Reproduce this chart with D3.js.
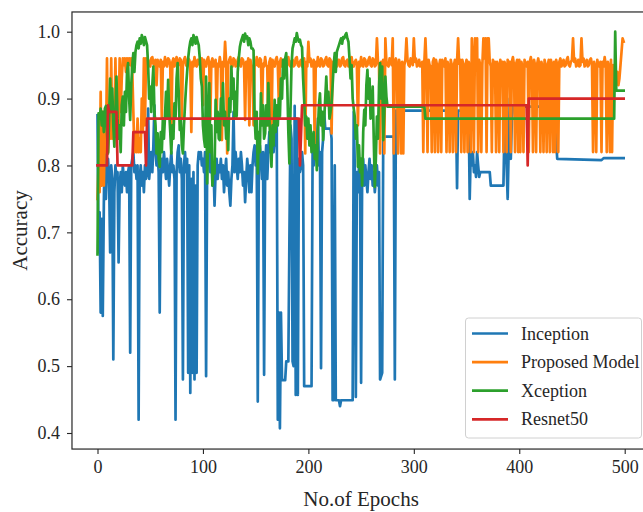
<!DOCTYPE html>
<html><head><meta charset="utf-8">
<script src="https://cdn.jsdelivr.net/npm/d3@7/dist/d3.min.js"></script>
<style>body{margin:0;background:#fff}svg{display:block}</style>
</head><body><svg id="c" width="643" height="512"></svg>
<script>
const xTicks=[0,100,200,300,400,500];
const yTicks=[0.4,0.5,0.6,0.7,0.8,0.9,1.0];
const seriesNames=["Inception","Proposed Model","Xception","Resnet50"];
const seriesColors=["#1f77b4","#ff7f0e","#2ca02c","#d62728"];

const inception=[[0,0.875],[1,0.67],[2,0.73],[3,0.58],[4,0.72],[5,0.575],[6,0.74],[7,0.86],[8,0.75],[9,0.80],[10,0.81],[11,0.78],[12,0.67],[13,0.80],[14,0.78],[15,0.51],[16,0.76],[17,0.80],[18,0.78],[19,0.79],[20,0.655],[21,0.77],[22,0.79],[23,0.76],[24,0.80],[25,0.78],[26,0.77],[27,0.79],[28,0.76],[29,0.79],[30,0.80],[31,0.52],[32,0.80],[33,0.81],[34,0.82],[35,0.79],[36,0.80],[37,0.78],[38,0.80],[39,0.42],[40,0.78],[41,0.80],[42,0.77],[43,0.79],[44,0.76],[45,0.80],[46,0.78],[47,0.79],[48,0.885],[49,0.78],[50,0.80],
[51,0.82],[52,0.79],[53,0.83],[54,0.89],[55,0.82],[56,0.80],[57,0.82],[58,0.79],[59,0.58],[60,0.78],[61,0.81],[62,0.79],[63,0.82],[64,0.80],[65,0.78],[66,0.81],[67,0.79],[68,0.77],[69,0.80],[70,0.82],[71,0.79],[72,0.80],[73,0.78],[74,0.42],[75,0.79],[76,0.82],[77,0.83],[78,0.79],[79,0.81],[80,0.78],[81,0.48],[82,0.80],[83,0.82],[84,0.79],[85,0.81],[86,0.49],[87,0.80],[88,0.46],[89,0.78],[90,0.49],[91,0.79],[92,0.48],[93,0.77],[94,0.49],[95,0.80],[96,0.82],[97,0.81],[98,0.82],[99,0.80],[100,0.81],[101,0.79],[102,0.82],[103,0.485],[104,0.80],[105,0.83],[106,0.81],[107,0.79],[108,0.82],[109,0.77],[110,0.80],
[111,0.74],[112,0.79],[113,0.81],[114,0.78],[115,0.80],[116,0.79],[117,0.81],[118,0.78],[119,0.80],[120,0.76],[121,0.79],[122,0.81],[123,0.77],[124,0.79],[125,0.76],[126,0.74],[127,0.78],[128,0.80],[129,0.88],[130,0.79],[131,0.82],[132,0.80],[133,0.78],[134,0.81],[135,0.79],[136,0.82],[137,0.80],[138,0.77],[139,0.79],[140,0.745],[141,0.78],[142,0.81],[143,0.79],[144,0.76],[145,0.80],[146,0.76],[147,0.80],[148,0.82],[149,0.83],[150,0.80],[151,0.82],[152,0.447],[153,0.80],[154,0.83],[155,0.81],[156,0.78],[157,0.82],[158,0.487],[159,0.80],[160,0.83],[161,0.78],[162,0.82],[163,0.85],[164,0.82],[165,0.84],[166,0.85],[167,0.82],[168,0.84],[169,0.83],
[170,0.86],[171,0.42],[172,0.58],[173,0.407],[174,0.58],[175,0.479],[178,0.479],[179,0.507],[181,0.507],[182,0.69],[183,0.86],[184,0.84],[185,0.507],[186,0.50],[187,0.889],[188,0.457],[189,0.87],[190,0.457],[191,0.81],[192,0.79],[193,0.80],[194,0.82],[195,0.80],[196,0.47],[203,0.47],[204,0.82],[205,0.80],[206,0.83],[207,0.81],[208,0.83],[209,0.87],[210,0.80],[211,0.82],[212,0.497],[213,0.82],[214,0.84],[215,0.88],[216,0.855],[221,0.855],[222,0.84],[223,0.449],[224,0.449],[225,0.80],[226,0.449],[229,0.449],[230,0.44],[231,0.449],[242,0.449],[243,0.88],[244,0.80],[245,0.454],[246,0.79],[247,0.76],[248,0.80],[249,0.78],[250,0.475],[251,0.79],[252,0.81],[253,0.77],[254,0.80],[255,0.78],[256,0.76],[257,0.79],[258,0.81],[259,0.78],[260,0.80],[261,0.77],[262,0.79],[263,0.76],[264,0.78],[265,0.80],[266,0.77],[267,0.79],[268,0.48],[270,0.49],[271,0.843],[281,0.843],[282,0.48],[283,0.882],
[340,0.882],[341,0.766],[342,0.882],[352,0.882],[353,0.75],[354,0.82],[355,0.80],[356,0.82],[357,0.79],[358,0.80],[359,0.783],[360,0.82],[361,0.80],[362,0.783],[363,0.79],[372,0.79],[373,0.77],[385,0.77],[386,0.86],[387,0.85],[389,0.75],[391,0.90],[392,0.81],[393,0.87],[394,0.888],[433,0.888],[436,0.81],[478,0.808],[480,0.811],[499,0.811]];

const proposed=[[0,0.75],[1,0.80],[2,0.76],[3,0.91],[4,0.77],[5,0.88],[6,0.77],[7,0.85],[8,0.82],[9,0.96],[10,0.82],[11,0.86],[12,0.84],[13,0.96],[14,0.84],[15,0.88],[16,0.85],[17,0.96],[18,0.86],[19,0.90],[20,0.86],[21,0.96],[22,0.88],[23,0.93],[24,0.96],[25,0.95],[26,0.96],[27,0.94],[28,0.96],[29,0.95],[30,0.96],[31,0.95],[32,0.96],[33,0.94],[34,0.88],[35,0.82],[36,0.85],[37,0.82],[38,0.87],[39,0.82],[40,0.84],[41,0.82],[42,0.90],[43,0.85],[44,0.96],[45,0.86],[46,0.96],[47,0.95],
[48,0.958],[49,0.95],[50,0.948],[51,0.96],[52,0.962],[53,0.952],[54,0.95],[55,0.958],[56,0.92],[57,0.958],[58,0.95],[59,0.948],[60,0.958],[61,0.87],[62,0.955],[63,0.948],[64,0.962],[65,0.952],[66,0.948],[67,0.96],[68,0.958],[69,0.95],[70,0.84],[71,0.955],[72,0.96],[73,0.948],[74,0.956],[75,0.962],[76,0.95],[77,0.95],[78,0.96],[79,0.958],[80,0.87],[81,0.952],[82,0.958],[83,0.962],[84,0.95],[85,0.948],[86,0.96],[87,0.958],[88,0.95],[89,0.85],[90,0.955],[91,0.948],[92,0.962],[93,0.95],[94,0.948],[95,0.958],[96,0.958],[97,0.95],[98,0.95],[99,0.96],[100,0.89],[101,0.958],[102,0.95],[103,0.948],[104,0.958],[105,0.962],[106,0.95],[107,0.868],[108,0.955],[109,0.96],[110,0.948],[111,0.952],[112,0.958],[113,0.87],[114,0.952],[115,0.948],[116,0.962],[117,0.95],[118,0.838],[119,0.955],[120,0.948],[121,0.985],[122,0.955],[123,0.818],[124,0.952],
[125,0.958],[126,0.962],[127,0.95],[128,0.948],[129,0.96],[130,0.958],[131,0.948],[132,0.95],[133,0.958],[134,0.962],[135,0.95],[136,0.948],[137,0.96],[138,0.958],[139,0.95],[140,0.868],[141,0.955],[142,0.948],[143,0.96],[144,0.86],[145,0.958],[146,0.95],[147,0.948],[148,0.86],[149,0.955],[150,0.95],[151,0.962],[152,0.95],[153,0.948],[154,0.96],[155,0.958],[156,0.873],[157,0.952],[158,0.948],[159,0.962],[160,0.95],[161,0.948],[162,0.86],[163,0.955],[164,0.96],[165,0.85],[166,0.958],[167,0.95],[168,0.948],[169,0.958],[170,0.962],[171,0.95],[172,0.893],[173,0.955],[174,0.96],[175,0.948],[176,0.952],[177,0.958],[178,0.948],[179,0.95],[180,0.96],[181,0.962],[182,0.95],[183,0.948],[184,0.956],[185,0.958],[186,0.948],[187,0.95],[188,0.96],[189,0.962],[190,0.95],[191,0.948],[192,0.955],[193,0.958],[194,0.948],[195,0.95],[196,0.96],[197,0.818],[198,0.955],[199,0.948],[200,0.985],[201,0.955],
[202,0.96],[203,0.948],[204,0.952],[205,0.958],[206,0.83],[207,0.955],[208,0.948],[209,0.962],[210,0.95],[211,0.948],[212,0.96],[213,0.958],[214,0.948],[215,0.95],[216,0.958],[217,0.962],[218,0.95],[219,0.948],[220,0.96],[221,0.958],[222,0.848],[223,0.955],[224,0.948],[225,0.962],[226,0.95],[227,0.948],[228,0.958],[229,0.958],[230,0.948],[231,0.95],[232,0.96],[233,0.962],[234,0.95],[235,0.948],[236,0.956],[237,0.958],[238,0.948],[239,0.95],[240,0.96],[241,0.962],[242,0.95],[243,0.948],[244,0.955],[245,0.958],[246,0.95],[247,0.86],[248,0.955],[249,0.948],[250,0.962],[251,0.95],[252,0.948],[253,0.96],[254,0.958],[255,0.948],[256,0.95],[257,0.958],[258,0.962],[259,0.95],[260,0.948],[261,0.96],[262,0.958],[263,0.948],[264,0.95],[265,0.99],[266,0.955],[267,0.95],[268,0.818],[269,0.955],[270,0.948],[271,0.958],[272,0.818],[273,0.99],[274,0.955],[275,0.95],[276,0.948],[277,0.96],[278,0.958],[279,0.95],[280,0.99],[281,0.818],[282,0.955],[283,0.96],[284,0.948],[285,0.818],[286,0.958],[287,0.95],[288,0.818],[289,0.955],[290,0.818],[291,0.95],[292,0.958],[293,0.99],[294,0.958],[295,0.95],[296,0.948],[297,0.96],[298,0.958],[299,0.95],[300,0.99],[301,0.955],[302,0.96],[303,0.948],[304,0.95],[305,0.958],[306,0.948],[307,0.95],
[308,0.955],[309,0.82],[310,0.955],[311,0.99],[312,0.95],[313,0.82],[314,0.958],[315,0.95],[316,0.948],[317,0.82],[318,0.955],[319,0.96],[320,0.82],[321,0.958],[322,0.95],[323,0.82],[324,0.95],[325,0.958],[326,0.82],[327,0.958],[328,0.95],[329,0.948],[330,0.96],[331,0.82],[332,0.955],[333,0.948],[334,0.82],[335,0.958],[336,0.95],[337,0.82],[338,0.95],[339,0.958],[340,0.82],[341,0.955],[342,0.99],[343,0.952],[344,0.958],[345,0.82],[346,0.958],[347,0.95],[348,0.82],[349,0.95],[350,0.958],[351,0.82],[352,0.955],[353,0.948],[354,0.82],[355,0.99],[356,0.955],[357,0.82],[358,0.99],[359,0.96],[360,0.99],[361,0.82],[362,0.958],[363,0.95],[364,0.82],[365,0.95],[366,0.99],[367,0.96],[368,0.99],[369,0.82],[370,0.99],[371,0.99],[372,0.955],[373,0.948],[374,0.82],[375,0.958],[376,0.948],[377,0.955],[378,0.82],[379,0.955],[380,0.95],[381,0.82],[382,0.958],[383,0.948],[384,0.955],[385,0.82],[386,0.955],[387,0.95],[388,0.82],[389,0.958],[390,0.948],[391,0.955],[392,0.82],[393,0.955],[394,0.962],[395,0.95],[396,0.82],[397,0.952],[398,0.958],[399,0.82],[400,0.958],[401,0.82],[402,0.955],[403,0.948],[404,0.82],[405,0.958],[406,0.95],[407,0.948],[408,0.955],[409,0.82],[410,0.955],[411,0.962],[412,0.95],[413,0.82],[414,0.958],[415,0.95],[416,0.82],[417,0.952],[418,0.96],[419,0.95],[420,0.82],[421,0.955],[422,0.948],[423,0.82],[424,0.958],[425,0.95],[426,0.82],[427,0.95],[428,0.958],[429,0.82],[430,0.958],[431,0.95],[432,0.82],[433,0.955],[434,0.82],[435,0.958],[436,0.95],[437,0.82],[438,0.955],
[439,0.96],[440,0.948],[441,0.952],[442,0.958],[443,0.948],[444,0.95],[445,0.958],[446,0.962],[447,0.95],[448,0.948],[449,0.955],[450,0.958],[451,0.99],[452,0.955],[453,0.96],[454,0.948],[455,0.95],[456,0.958],[457,0.948],[458,0.95],[459,0.99],[460,0.955],[461,0.96],[462,0.948],[463,0.952],[464,0.958],[465,0.948],[466,0.95],[467,0.958],[468,0.96],[469,0.95],[470,0.82],[471,0.955],[472,0.948],[473,0.82],[474,0.958],[475,0.95],[476,0.948],[477,0.955],[478,0.82],[479,0.955],[480,0.948],[481,0.962],[482,0.95],[483,0.82],[484,0.955],[485,0.948],[486,0.82],[487,0.958],[488,0.82],[489,0.95],[490,0.94],[491,0.95],[492,0.93],[493,0.94],[494,0.92],[495,0.93],[496,0.95],[497,0.97],[498,0.99],[499,0.985]];

const xception=[[0,0.667],[1,0.878],[2,0.87],[3,0.885],[4,0.86],[5,0.88],[6,0.85],[7,0.885],[8,0.889],[9,0.85],[10,0.818],[11,0.87],[12,0.93],[13,0.88],[14,0.915],[15,0.86],[16,0.828],[17,0.88],[18,0.933],[19,0.87],[20,0.84],[21,0.86],[22,0.82],[23,0.89],[24,0.903],[25,0.86],[26,0.91],[27,0.88],[28,0.94],[29,0.953],[30,0.90],[31,0.868],[32,0.92],[33,0.95],[34,0.968],[35,0.94],[36,0.97],[37,0.98],[38,0.985],[39,0.975],[40,0.99],[41,0.982],[42,0.995],[43,0.99],[44,0.98],[45,0.992],[46,0.986],[47,0.98],[48,0.95],[49,0.90],[50,0.918],[51,0.88],[52,0.92],[53,0.948],[54,0.88],[55,0.86],[56,0.818],[57,0.848],[58,0.81],[59,0.798],[60,0.85],[61,0.82],[62,0.87],[63,0.84],[64,0.873],[65,0.91],[66,0.87],[67,0.928],[68,0.88],[69,0.85],[70,0.818],[71,0.86],[72,0.84],[73,0.893],[74,0.87],[75,0.93],[76,0.953],[77,0.91],[78,0.853],[79,0.87],[80,0.83],[81,0.818],[82,0.86],[83,0.89],[84,0.918],[85,0.94],[86,0.96],[87,0.975],[88,0.985],[89,0.99],[90,0.98],[91,0.995],[92,0.99],[93,0.982],[94,0.992],[95,0.985],[96,0.98],[97,0.96],[98,0.93],[99,0.918],[100,0.86],[101,0.84],[102,0.828],[103,0.933],[104,0.773],[105,0.85],[106,0.923],[107,0.82],[108,0.86],[109,0.77],[110,0.80],
[111,0.788],[112,0.898],[113,0.85],[114,0.88],[115,0.84],[116,0.838],[117,0.90],[118,0.87],[119,0.923],[120,0.86],[121,0.88],[122,0.84],[123,0.87],[124,0.823],[125,0.90],[126,0.88],[127,0.948],[128,0.90],[129,0.93],[130,0.873],[131,0.91],[132,0.873],[133,0.94],[134,0.96],[135,0.977],[136,0.985],[137,0.99],[138,0.995],[139,0.985],[140,0.997],[141,0.99],[142,0.993],[143,0.98],[144,0.99],[145,0.985],[146,0.975],[147,0.975],[148,0.972],[149,0.873],[150,0.84],[151,0.88],[152,0.788],[153,0.85],[154,0.82],[155,0.908],[156,0.86],[157,0.89],[158,0.84],[159,0.848],[160,0.89],[161,0.86],[162,0.923],[163,0.87],[164,0.83],[165,0.798],[166,0.86],[167,0.83],[168,0.898],[169,0.85],[170,0.89],[171,0.86],[172,0.90],[173,0.873],[174,0.93],[175,0.90],[176,0.958],[177,0.93],[178,0.96],[179,0.968],[180,0.92],[181,0.85],[182,0.803],[183,0.88],[184,0.95],[185,0.975],[186,0.982],[187,0.99],[188,0.985],[189,0.998],[190,0.99],[191,0.985],[192,0.988],[193,0.98],[194,0.977],[195,0.93],[196,0.898],[197,0.86],[198,0.873],[199,0.84],[200,0.87],[201,0.83],[202,0.86],[203,0.82],[204,0.833],[205,0.85],[206,0.81],[207,0.83],[208,0.793],[209,0.85],[210,0.89],[211,0.908],[212,0.86],[213,0.88],[214,0.838],[215,0.87],[216,0.90],[217,0.933],[218,0.89],[219,0.91],[220,0.87],[221,0.88],[222,0.893],[223,0.92],[224,0.95],[225,0.968],[226,0.94],[227,0.97],[228,0.975],[229,0.98],[230,0.985],[231,0.99],[232,0.982],[233,0.992],[234,0.99],[235,0.995],[236,0.998],[237,0.99],[238,0.985],[239,0.96],[240,0.93],[241,0.95],[242,0.90],[243,0.885],[244,0.873],[245,0.84],[246,0.86],[247,0.798],[248,0.83],[249,0.79],[250,0.81],[251,0.77],[252,0.85],[253,0.883],[254,0.86],[255,0.92],[256,0.943],[257,0.90],[258,0.93],[259,0.87],[260,0.873],[261,0.918],[262,0.84],[263,0.768],[264,0.81],[265,0.873],[266,0.84],[267,0.918],[268,0.953],[269,0.90],[270,0.948],[271,0.838],[272,0.88],[273,0.933],[274,0.903],[275,0.888],[310,0.888],[311,0.87],[490,0.87],[491,1.0],[492,0.912],[499,0.912]];

const resnet50=[[0,0.80],[9,0.80],[10,0.89],[11,0.88],[18,0.88],[19,0.80],[33,0.80],[34,0.85],[45,0.85],[46,0.80],[47,0.87],[191,0.87],[192,0.80],[194,0.89],[407,0.89],[408,0.80],[409,0.90],[499,0.90]];

const seriesData=[inception,proposed,xception,resnet50];

const svg=d3.select("#c");
const x=d3.scaleLinear().domain([0,500]).range([97.5,624.7]);
const y=d3.scaleLinear().domain([0.4,1.0]).range([433,31.7]);
const xMin=-24.2,xMax=524.2,yMin=0.376,yMax=1.0295;
const L=x(xMin),R=x(xMax),T=y(yMax),B=y(yMin);
const font='"Liberation Serif", "Times New Roman", Times, serif';
const ink="#262626";

svg.append("defs").append("clipPath").attr("id","clip").append("rect")
  .attr("x",L).attr("y",T).attr("width",R-L).attr("height",B-T);

const line=d3.line().x(d=>x(d[0])).y(d=>y(d[1]));
const g=svg.append("g").attr("clip-path","url(#clip)");
seriesData.forEach((data,i)=>{
  g.append("path").datum(data).attr("d",line).attr("fill","none")
   .attr("stroke",seriesColors[i]).attr("stroke-width",2.7)
   .attr("stroke-linejoin","round").attr("stroke-linecap","square");
});

// axes
const xAxis=svg.append("g").attr("transform",`translate(0,${B})`)
  .call(d3.axisBottom(x).tickValues(xTicks).tickSize(5).tickPadding(6).tickFormat(d3.format("d")));
const yAxis=svg.append("g").attr("transform",`translate(${L},0)`)
  .call(d3.axisLeft(y).tickValues(yTicks).tickSize(5).tickPadding(7).tickFormat(d3.format(".1f")));
[xAxis,yAxis].forEach(a=>{
  a.attr("font-family",null).attr("font-size",null);
  a.select(".domain").remove();
  a.selectAll(".tick line").attr("stroke",ink).attr("stroke-width",1.1);
  a.selectAll(".tick text").attr("fill",ink).attr("font-family",font).style("font-family",font);
});
xAxis.selectAll(".tick text").style("font-size","18px");
yAxis.selectAll(".tick text").style("font-size","18px");

// frame
svg.append("rect").attr("x",L).attr("y",T).attr("width",R-L).attr("height",B-T)
  .attr("fill","none").attr("stroke",ink).attr("stroke-width",1.2);

// axis labels
svg.append("text").attr("x",(L+R)/2).attr("y",506).attr("text-anchor","middle")
  .attr("font-family",font).style("font-size","21px").attr("fill",ink).text("No.of Epochs");
svg.append("text").attr("transform",`translate(27,${(T+B)/2}) rotate(-90)`).attr("text-anchor","middle")
  .attr("font-family",font).style("font-size","21px").attr("fill",ink).text("Accuracy");

// legend
const lg=svg.append("g");
lg.append("rect").attr("x",465.5).attr("y",318).attr("width",176).attr("height",120)
  .attr("rx",3).attr("fill","#fff").attr("fill-opacity",0.85).attr("stroke","#d0d0d0").attr("stroke-width",1);
seriesNames.forEach((n,i)=>{
  const cy=333.5+i*28.6;
  lg.append("line").attr("x1",472).attr("x2",508).attr("y1",cy).attr("y2",cy)
    .attr("stroke",seriesColors[i]).attr("stroke-width",2.7);
  lg.append("text").attr("x",521).attr("y",cy+6).attr("font-family",font).style("font-size","18px")
    .attr("fill",ink).text(n);
});
</script></body></html>
